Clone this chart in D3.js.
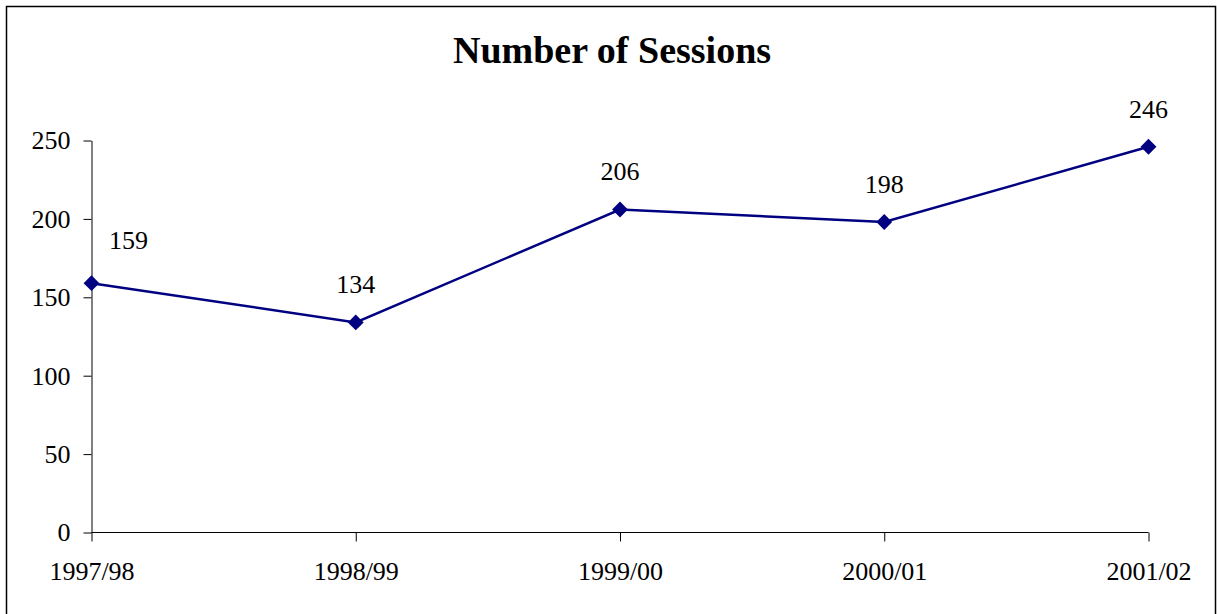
<!DOCTYPE html>
<html>
<head>
<meta charset="utf-8">
<script src="https://cdn.jsdelivr.net/npm/d3@7"></script>
<style>
  html, body { margin: 0; padding: 0; background: #fff; }
  svg { display: block; }
</style>
</head>
<body>
<svg id="chart" width="1217" height="614"></svg>
<script>
const categories = ["1997/98", "1998/99", "1999/00", "2000/01", "2001/02"];
const sessions = [159, 134, 206, 198, 246];
const yTicks = [0, 50, 100, 150, 200, 250];
const title = "Number of Sessions";

const W = 1217, H = 614;
const svg = d3.select("#chart");
const font = "'Liberation Serif', 'Times New Roman', serif";

// outer frame
svg.append("rect")
  .attr("x", 6.5).attr("y", 6.5)
  .attr("width", 1209).attr("height", 612)
  .attr("fill", "none").attr("stroke", "#000").attr("stroke-width", 1.5);

const x = d3.scalePoint().domain(categories).range([91.5, 1148.5]);
const y = d3.scaleLinear().domain([0, 250]).range([532.5, 140.5]);

// title
svg.append("text")
  .attr("x", 612).attr("y", 63)
  .attr("text-anchor", "middle")
  .attr("font-family", font).attr("font-weight", "bold")
  .attr("font-size", 38)
  .text(title);

// y axis
const yAxis = d3.axisLeft(y).tickValues(yTicks).tickSizeOuter(0).tickSizeInner(8).tickPadding(13);
const gy = svg.append("g").attr("transform", "translate(91.5,0)").call(yAxis);
gy.select(".domain").attr("stroke", "#000");
gy.selectAll(".tick line").attr("stroke", "#000");
gy.selectAll(".tick text")
  .attr("font-family", font).attr("font-size", 26).attr("fill", "#000");

// x axis
const xAxis = d3.axisBottom(x).tickSizeOuter(0).tickSizeInner(9).tickPadding(20);
const gx = svg.append("g").attr("transform", "translate(0,532.5)").call(xAxis);
gx.select(".domain").attr("stroke", "#000").attr("d", `M${x(categories[0])},0H${x(categories[categories.length-1])}`);
gx.selectAll(".tick line").attr("stroke", "#000");
gx.selectAll(".tick text")
  .attr("font-family", font).attr("font-size", 26).attr("fill", "#000");

// line
const line = d3.line()
  .x((d, i) => x(categories[i]))
  .y(d => y(d));
svg.append("path")
  .datum(sessions)
  .attr("d", line)
  .attr("fill", "none")
  .attr("stroke", "#000080")
  .attr("stroke-width", 2.5);

// diamond markers
const diamond = d3.symbol().type(d3.symbolDiamond2).size(160);
svg.selectAll(".marker")
  .data(sessions)
  .join("path")
  .attr("class", "marker")
  .attr("transform", (d, i) => `translate(${x(categories[i])},${y(d)})`)
  .attr("d", diamond)
  .attr("fill", "#000080");

// data labels
svg.selectAll(".lbl")
  .data(sessions)
  .join("text")
  .attr("class", "lbl")
  .attr("x", (d, i) => x(categories[i]) + (i === 0 ? 37 : 0))
  .attr("y", (d, i) => y(d) - (i === 0 ? 34 : 29))
  .attr("text-anchor", "middle")
  .attr("font-family", font).attr("font-size", 26).attr("fill", "#000")
  .text(d => d);
</script>
</body>
</html>
